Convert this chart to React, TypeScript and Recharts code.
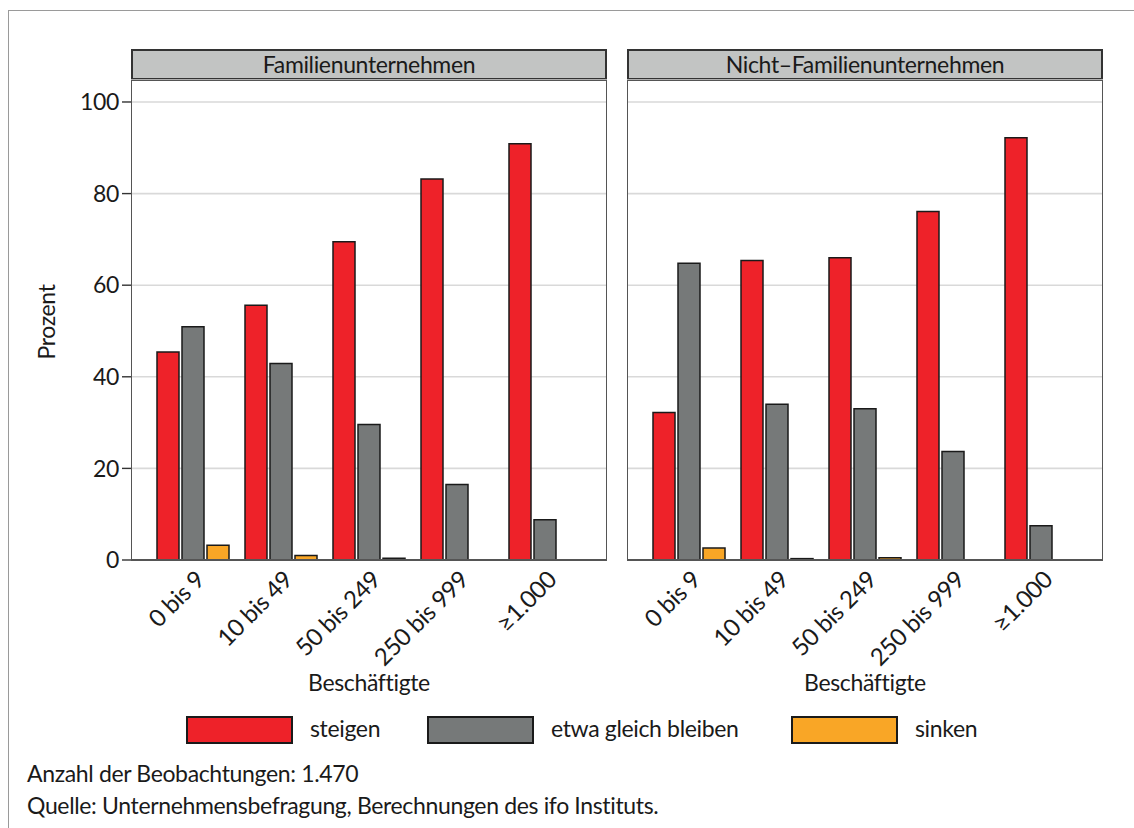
import React from "react";
import { BarChart, Bar, XAxis, YAxis, CartesianGrid } from "recharts";

const categories = ["0 bis 9", "10 bis 49", "50 bis 249", "250 bis 999", "≥1.000"];

const famSteigen = [45.4, 55.6, 69.5, 83.2, 90.9];
const famGleich = [50.9, 42.9, 29.6, 16.5, 8.8];
const famSinken = [3.2, 1.0, 0.4, 0, 0];

const nichtSteigen = [32.2, 65.4, 66.0, 76.1, 92.2];
const nichtGleich = [64.8, 34.0, 33.0, 23.7, 7.5];
const nichtSinken = [2.6, 0.3, 0.5, 0, 0];

const yTicks = [0, 20, 40, 60, 80, 100];

const seriesNames = ["steigen", "etwa gleich bleiben", "sinken"];
const colors = ["#ee2229", "#767979", "#f9a626"];

const FONT = "Lato, 'Noto Sans', sans-serif";
const TEXT = "#1a1a1a";
const FS = 23;
const LS = "-0.35px";

const famData = categories.map((c, i) => ({
  cat: c,
  steigen: famSteigen[i],
  gleich: famGleich[i],
  sinken: famSinken[i],
}));

const nichtData = categories.map((c, i) => ({
  cat: c,
  steigen: nichtSteigen[i],
  gleich: nichtGleich[i],
  sinken: nichtSinken[i],
}));

const XTick = (props: any) => {
  const { x, y, payload } = props;
  return (
    <g transform={`translate(${x + 1},${y + 1})`}>
      <text
        transform="rotate(-45)"
        textAnchor="end"
        dy="0.72em"
        fontSize={24}
        fontFamily={FONT}
        letterSpacing={LS}
        fill={TEXT}
      >
        {payload.value}
      </text>
    </g>
  );
};

function Panel({
  data,
  title,
  left,
  width,
  marginLeft,
  marginRight,
  showY,
}: {
  data: any[];
  title: string;
  left: number;
  width: number;
  marginLeft: number;
  marginRight: number;
  showY: boolean;
}) {
  const yAxisW = showY ? 131 : 0;
  const plotLeft = left + marginLeft + yAxisW;
  const plotRight = left + width - marginRight;
  return (
    <>
      <div
        style={{
          position: "absolute",
          left: plotLeft,
          top: 49,
          width: plotRight - plotLeft,
          height: 31,
          boxSizing: "border-box",
          background: "#c2c4c3",
          border: "2px solid #333",
          fontFamily: FONT,
          fontSize: FS,
          letterSpacing: LS,
          color: TEXT,
          textAlign: "center",
          lineHeight: "27px",
        }}
      >
        {title}
      </div>
      <div style={{ position: "absolute", left, top: 0 }}>
        <BarChart
          width={width}
          height={700}
          data={data}
          margin={{ top: 80, right: marginRight, left: marginLeft, bottom: 0 }}
          barCategoryGap={8}
          barGap={3}
        >
          <CartesianGrid vertical={false} stroke="#d9d9d9" strokeWidth={1.6} />
          <XAxis
            dataKey="cat"
            height={140}
            padding={{ left: 18, right: 18 }}
            tickLine={false}
            axisLine={{ stroke: "#555", strokeWidth: 2.2 }}
            tick={<XTick />}
            interval={0}
          />
          <YAxis
            hide={!showY}
            width={yAxisW}
            domain={[0, 104.8]}
            ticks={yTicks}
            allowDataOverflow
            tickSize={9}
            tickMargin={3}
            tickLine={{ stroke: "#333", strokeWidth: 1.4 }}
            axisLine={false}
            tick={{ fontSize: FS, fontFamily: FONT, fill: TEXT, letterSpacing: LS }}
          />
          <Bar dataKey="steigen" fill={colors[0]} stroke="#1a1a1a" strokeWidth={1.5} isAnimationActive={false} />
          <Bar dataKey="gleich" fill={colors[1]} stroke="#1a1a1a" strokeWidth={1.5} isAnimationActive={false} />
          <Bar dataKey="sinken" fill={colors[2]} stroke="#1a1a1a" strokeWidth={1.5} isAnimationActive={false} />
        </BarChart>
      </div>
      <div
        style={{
          position: "absolute",
          left: plotLeft,
          top: 80,
          width: plotRight - plotLeft,
          height: 481,
          boxSizing: "border-box",
          border: "1.6px solid #555",
          pointerEvents: "none",
        }}
      />
      <div
        style={{
          position: "absolute",
          left: plotLeft,
          width: plotRight - plotLeft,
          top: 668,
          textAlign: "center",
          fontFamily: FONT,
          fontSize: FS,
          letterSpacing: LS,
          color: TEXT,
        }}
      >
        Beschäftigte
      </div>
    </>
  );
}

export default function App() {
  return (
    <div
      style={{
        position: "absolute",
        left: 0,
        top: 0,
        width: 1134,
        height: 828,
        background: "#fff",
        overflow: "hidden",
      }}
    >
      <div
        style={{
          position: "absolute",
          left: 8,
          top: 10,
          width: 1140,
          height: 900,
          borderTop: "1.5px solid #9a9a9a",
          borderLeft: "1.5px solid #9a9a9a",
        }}
      />
      <Panel data={famData} title="Familienunternehmen" left={0} width={620} marginLeft={0} marginRight={13} showY />
      <Panel data={nichtData} title="Nicht–Familienunternehmen" left={620} width={500} marginLeft={7} marginRight={17} showY={false} />
      <div
        style={{
          position: "absolute",
          left: 46,
          top: 322,
          transform: "translate(-50%, -50%) rotate(-90deg)",
          fontFamily: FONT,
          fontSize: FS,
          letterSpacing: LS,
          color: TEXT,
          whiteSpace: "nowrap",
        }}
      >
        Prozent
      </div>
      {seriesNames.map((name, i) => {
        const boxLefts = [186, 427, 791];
        return (
          <React.Fragment key={name}>
            <div
              style={{
                position: "absolute",
                left: boxLefts[i],
                top: 716,
                width: 107,
                height: 28,
                boxSizing: "border-box",
                background: colors[i],
                border: "2px solid #1a1a1a",
              }}
            />
            <div
              style={{
                position: "absolute",
                left: boxLefts[i] + 124,
                top: 714,
                fontFamily: FONT,
                fontSize: FS,
                letterSpacing: LS,
                color: TEXT,
                whiteSpace: "nowrap",
              }}
            >
              {name}
            </div>
          </React.Fragment>
        );
      })}
      <div
        style={{
          position: "absolute",
          left: 27,
          top: 757,
          fontFamily: FONT,
          fontSize: FS,
          letterSpacing: LS,
          color: TEXT,
          lineHeight: "32px",
          whiteSpace: "nowrap",
        }}
      >
        <div>Anzahl der Beobachtungen: 1.470</div>
        <div>Quelle: Unternehmensbefragung, Berechnungen des ifo Instituts.</div>
      </div>
    </div>
  );
}
